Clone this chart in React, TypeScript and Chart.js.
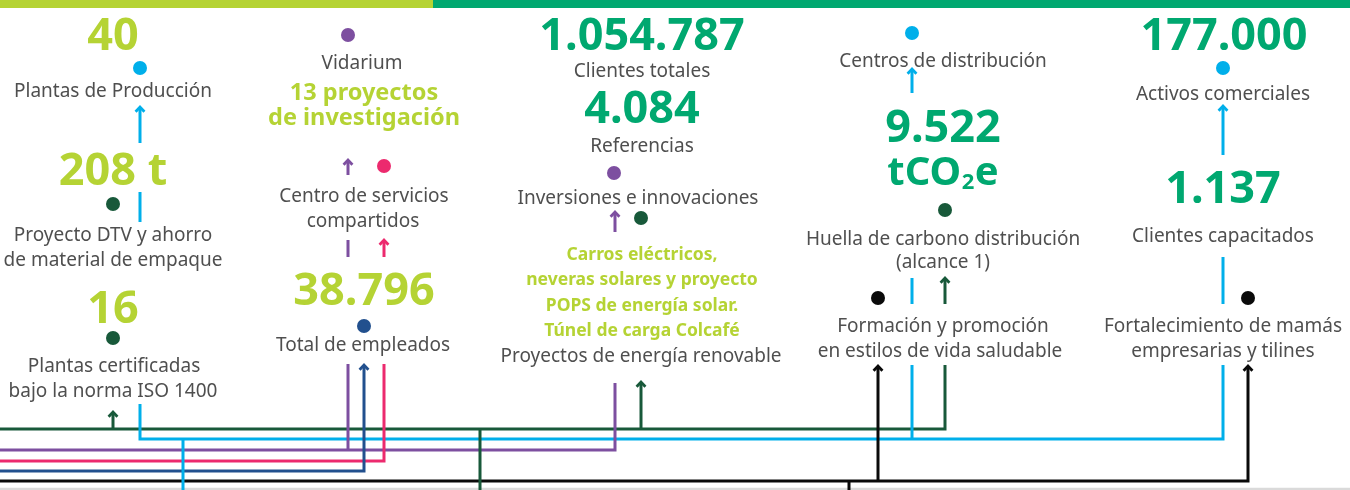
import { useEffect, useRef } from "react";
import { Chart, registerables } from "chart.js";

Chart.register(...registerables);

// ---------- content (values & texts) ----------
const limeFigures = ["40", "208 t", "16", "38.796"];
const greenFigures = ["1.054.787", "4.084", "9.522", "tCO₂e", "177.000", "1.137"];
const researchProjects = ["13 proyectos", "de investigación"];
const renewableProjects = [
  "Carros eléctricos,",
  "neveras solares y proyecto",
  "POPS de energía solar.",
  "Túnel de carga Colcafé",
];
const indicatorLabels = [
  "Plantas de Producción",
  "Proyecto DTV y ahorro",
  "de material de empaque",
  "Plantas certificadas",
  "bajo la norma ISO 1400",
  "Vidarium",
  "Centro de servicios",
  "compartidos",
  "Total de empleados",
  "Clientes totales",
  "Referencias",
  "Inversiones e innovaciones",
  "Proyectos de energía renovable",
  "Centros de distribución",
  "Huella de carbono distribución",
  "(alcance 1)",
  "Formación y promoción",
  "en estilos de vida saludable",
  "Activos comerciales",
  "Clientes capacitados",
  "Fortalecimiento de mamás",
  "empresarias y tilines",
];

// ---------- layout (positions in scale units) ----------
const limeFigureSpots = [[113, 50], [113, 185], [113, 323], [364, 305]];
const greenFigureSpots = [[642, 50], [642, 123], [943, 142], [943, 185], [1224, 50], [1223, 203]];
const greenFigureSizes = [45, 45, 45, 40, 45, 45];
const researchSpots = [[364, 100], [364, 125]];
const renewableSpots = [[642, 260], [642, 285], [642, 311], [642, 336]];
const labelSpots = [
  [113, 97], [113, 241], [113, 266], [114, 372], [113, 397],
  [362, 69], [364, 202], [363, 227], [363, 351],
  [642, 77], [642, 152], [638, 204], [641, 362],
  [943, 67], [943, 245], [943, 268], [943, 332], [940, 357],
  [1223, 100], [1223, 242], [1223, 332], [1223, 357],
];

// ---------- styles ----------
const LIME = "#b5d334";
const GREEN = "#00a870";
const CYAN = "#00afea";
const DKGREEN = "#18593a";
const PURPLE = "#7d4fa0";
const PINK = "#ec2a6e";
const NAVY = "#22508e";
const BLACK = "#0a0a0a";
const GRAYLINE = "#dadada";
const TEXT = "#4f4f4f";
const FONT = '"Noto Sans", "Open Sans", sans-serif';

const dotSpots = [
  [140, 68], [113, 204], [113, 338], [348, 35], [384, 166], [364, 326],
  [614, 173], [641, 218], [912, 33], [945, 210], [878, 298], [1223, 68], [1248, 298],
];
const dotColors = [CYAN, DKGREEN, DKGREEN, PURPLE, PINK, NAVY, PURPLE, DKGREEN, CYAN, DKGREEN, BLACK, CYAN, BLACK];

type Path = { pts: number[][]; color: string; arrow?: boolean; width?: number };
const connectorPaths: Path[] = [
  { pts: [[183, 439], [183, 490]], color: CYAN },
  { pts: [[480, 429], [480, 490]], color: DKGREEN },
  { pts: [[849, 481], [849, 490]], color: BLACK },
  { pts: [[878, 481], [878, 366]], color: BLACK, arrow: true },
  { pts: [[0, 471], [364, 471], [364, 365]], color: NAVY, arrow: true },
  { pts: [[0, 461], [384, 461], [384, 364]], color: PINK },
  { pts: [[0, 450], [615, 450], [615, 383]], color: PURPLE },
  { pts: [[348, 450], [348, 364]], color: PURPLE },
  { pts: [[140, 404], [140, 439], [1223, 439], [1223, 365]], color: CYAN },
  { pts: [[912, 439], [912, 365]], color: CYAN },
  { pts: [[0, 429], [945, 429], [945, 365]], color: DKGREEN },
  { pts: [[113, 429], [113, 412]], color: DKGREEN, arrow: true },
  { pts: [[641, 429], [641, 382]], color: DKGREEN, arrow: true },
  { pts: [[0, 481], [1248, 481], [1248, 366]], color: BLACK, arrow: true },
  { pts: [[0, 489], [1350, 489]], color: GRAYLINE, width: 2.5 },
  { pts: [[140, 143], [140, 107]], color: CYAN, arrow: true },
  { pts: [[140, 192], [140, 222]], color: CYAN },
  { pts: [[348, 175], [348, 160]], color: PURPLE, arrow: true },
  { pts: [[348, 240], [348, 257]], color: PURPLE },
  { pts: [[384, 257], [384, 240]], color: PINK, arrow: true },
  { pts: [[615, 232], [615, 212]], color: PURPLE, arrow: true },
  { pts: [[912, 93], [912, 69]], color: CYAN, arrow: true },
  { pts: [[912, 278], [912, 304]], color: CYAN },
  { pts: [[945, 304], [945, 278]], color: DKGREEN, arrow: true },
  { pts: [[1223, 155], [1223, 106]], color: CYAN, arrow: true },
  { pts: [[1223, 257], [1223, 304]], color: CYAN },
  { pts: [[0, 4], [433, 4]], color: LIME, width: 8 },
  { pts: [[433, 4], [1350, 4]], color: GREEN, width: 8 },
];

type TextItem = { text: string; x: number; y: number; size: number; weight: string; color: string };

function buildTexts(): TextItem[] {
  const out: TextItem[] = [];
  limeFigures.forEach((t, i) =>
    out.push({ text: t, x: limeFigureSpots[i][0], y: limeFigureSpots[i][1], size: 45, weight: "bold", color: LIME })
  );
  greenFigures.forEach((t, i) =>
    out.push({ text: t, x: greenFigureSpots[i][0], y: greenFigureSpots[i][1], size: greenFigureSizes[i], weight: "bold", color: GREEN })
  );
  researchProjects.forEach((t, i) =>
    out.push({ text: t, x: researchSpots[i][0], y: researchSpots[i][1], size: 23.5, weight: "bold", color: LIME })
  );
  renewableProjects.forEach((t, i) =>
    out.push({ text: t, x: renewableSpots[i][0], y: renewableSpots[i][1], size: 17.5, weight: "bold", color: LIME })
  );
  indicatorLabels.forEach((t, i) =>
    out.push({ text: t, x: labelSpots[i][0], y: labelSpots[i][1], size: 19, weight: "normal", color: TEXT })
  );
  return out;
}

function drawText(ctx: CanvasRenderingContext2D, t: TextItem, px: number, py: number) {
  const main = `${t.weight} ${t.size}px ${FONT}`;
  if (!t.text.includes("₂")) {
    ctx.font = main;
    ctx.textAlign = "center";
    ctx.fillText(t.text, px, py);
    return;
  }
  // subscript rendering: split around the subscript digit
  const [before, after] = t.text.split("₂");
  const subSize = Math.round(t.size * 0.55);
  const sub = `${t.weight} ${subSize}px ${FONT}`;
  ctx.font = main;
  const wb = ctx.measureText(before).width;
  const wa = ctx.measureText(after).width;
  ctx.font = sub;
  const ws = ctx.measureText("2").width + 1;
  const total = wb + ws + wa;
  let cx = px - total / 2;
  ctx.textAlign = "left";
  ctx.font = main;
  ctx.fillText(before, cx, py);
  cx += wb;
  ctx.font = sub;
  ctx.fillText("2", cx + 0.5, py + t.size * 0.09);
  cx += ws;
  ctx.font = main;
  ctx.fillText(after, cx, py);
}

const textPlugin = {
  id: "infoTexts",
  afterDatasetsDraw(chart: any) {
    const { ctx, scales } = chart;
    const xs = scales.x;
    const ys = scales.y;
    ctx.save();
    ctx.textBaseline = "alphabetic";
    for (const t of buildTexts()) {
      ctx.fillStyle = t.color;
      drawText(ctx, t, xs.getPixelForValue(t.x), ys.getPixelForValue(t.y));
    }
    ctx.restore();
  },
};

const arrowPlugin = {
  id: "arrowHeads",
  afterDatasetsDraw(chart: any) {
    const { ctx } = chart;
    chart.data.datasets.forEach((ds: any, i: number) => {
      if (!ds.arrowHead) return;
      const meta = chart.getDatasetMeta(i);
      const n = meta.data.length;
      const tip = meta.data[n - 1];
      const prev = meta.data[n - 2];
      const ang = Math.atan2(tip.y - prev.y, tip.x - prev.x);
      const len = 6.5;
      const spread = 0.75;
      ctx.save();
      ctx.strokeStyle = ds.borderColor;
      ctx.lineWidth = 2.8;
      ctx.lineJoin = "miter";
      ctx.lineCap = "butt";
      ctx.beginPath();
      ctx.moveTo(tip.x - len * Math.cos(ang - spread), tip.y - len * Math.sin(ang - spread));
      ctx.lineTo(tip.x, tip.y);
      ctx.lineTo(tip.x - len * Math.cos(ang + spread), tip.y - len * Math.sin(ang + spread));
      ctx.stroke();
      ctx.restore();
    });
  },
};

export default function App() {
  const ref = useRef<HTMLCanvasElement | null>(null);

  useEffect(() => {
    document.body.style.margin = "0";
    const canvas = ref.current;
    if (!canvas) return;

    const datasets: any[] = [
      {
        type: "scatter",
        data: dotSpots.map(([x, y]) => ({ x, y })),
        pointRadius: 7,
        pointHoverRadius: 7,
        pointBorderWidth: 0,
        pointBackgroundColor: dotColors,
        pointBorderColor: dotColors,
        showLine: false,
      },
      ...connectorPaths.map((p) => ({
        type: "line",
        data: p.pts.map(([x, y]) => ({ x, y })),
        borderColor: p.color,
        borderWidth: p.width ?? 3,
        pointRadius: 0,
        pointHoverRadius: 0,
        showLine: true,
        fill: false,
        tension: 0,
        borderCapStyle: "butt",
        borderJoinStyle: "miter",
        arrowHead: !!p.arrow,
      })),
    ];

    const chart = new Chart(canvas, {
      type: "scatter",
      data: { datasets },
      options: {
        responsive: false,
        maintainAspectRatio: false,
        animation: false,
        events: [],
        layout: { padding: 0, autoPadding: false },
        scales: {
          x: { type: "linear", min: 0, max: 1350, display: false },
          y: { type: "linear", min: 0, max: 490, reverse: true, display: false },
        },
        plugins: { legend: { display: false }, tooltip: { enabled: false } },
      } as any,
      plugins: [arrowPlugin, textPlugin],
    });

    return () => chart.destroy();
  }, []);

  return <canvas ref={ref} width={1350} height={490} style={{ display: "block", background: "#fff" }} />;
}
